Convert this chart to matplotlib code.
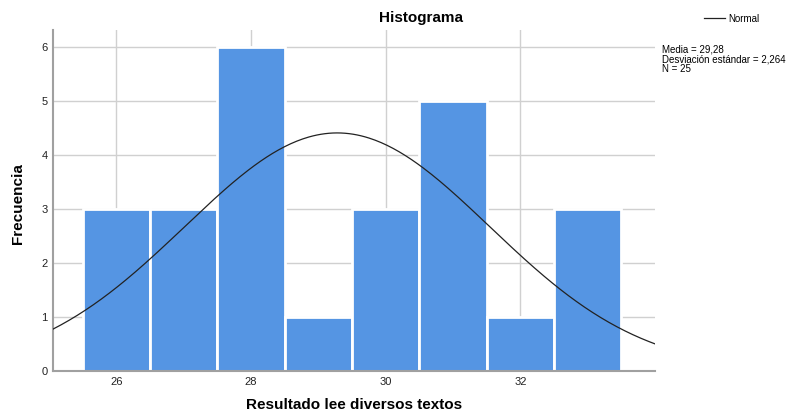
import numpy as np
import matplotlib.pyplot as plt

plt.rcParams['font.family'] = ['Liberation Sans', 'DejaVu Sans']

# scores and their frequencies
scores = [26, 27, 28, 29, 30, 31, 32, 33]
counts = [3, 3, 6, 1, 3, 5, 1, 3]
mean = 29.28
sd = 2.264
n = 25

fig = plt.figure(figsize=(8.06, 4.16), dpi=100)
ax = fig.add_axes([0.0658, 0.1082, 0.7469, 0.8197])

ax.bar(scores, counts, width=1.0, color='#5595E3', edgecolor='white', linewidth=2, zorder=2)

# normal curve scaled to counts (bin width = 1)
xs = np.linspace(25.06, 34.0, 300)
ys = n * np.exp(-0.5 * ((xs - mean) / sd) ** 2) / (sd * np.sqrt(2 * np.pi))
ax.plot(xs, ys, color='#222222', linewidth=0.9, zorder=3, label='Normal')

ax.set_xlim(25.06, 34.0)
ax.set_ylim(0, 6.31)
ax.set_xticks([26, 28, 30, 32])
ax.set_yticks(range(0, 7))
ax.grid(True, color='#d0d0d0', linewidth=1, zorder=0)
ax.set_axisbelow(True)
for s in ['top', 'right']:
    ax.spines[s].set_visible(False)
for s in ['left', 'bottom']:
    ax.spines[s].set_color('#a0a0a0')
    ax.spines[s].set_linewidth(1.5)
ax.tick_params(length=0, labelsize=8, colors='#222222', pad=4)

ax.set_xlabel('Resultado lee diversos textos', fontsize=11, fontweight='bold')
ax.set_ylabel('Frecuencia', fontsize=11, fontweight='bold')
ax.xaxis.set_label_coords(0.5, -0.08)
ax.yaxis.set_label_coords(-0.046, 0.49)
fig.text(421 / 806, 1 - 18 / 416, 'Histograma', ha='center', va='center', fontsize=11, fontweight='bold')

fig.legend(loc='upper left', bbox_to_anchor=(695 / 806, 1 - 5 / 416), frameon=False,
           fontsize=7, handlelength=2.2, handletextpad=0.3)
fig.text(662 / 806, 1 - 44 / 416,
         'Media = 29,28\nDesviación estándar = 2,264\nN = 25',
         ha='left', va='top', fontsize=7, linespacing=1.02)

plt.savefig('out.png', dpi=100)
